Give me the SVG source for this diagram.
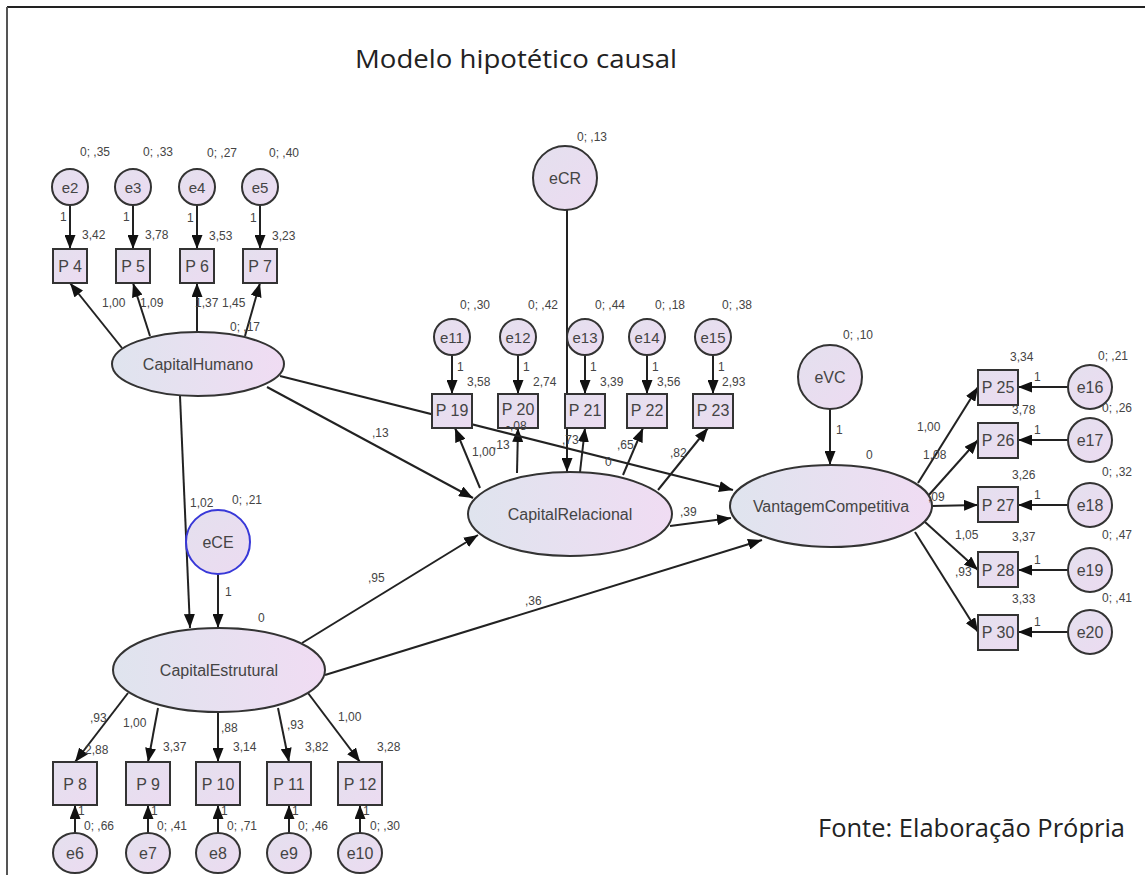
<svg xmlns="http://www.w3.org/2000/svg" width="1145" height="875" viewBox="0 0 1145 875">
<defs>
<linearGradient id="gE" x1="0" y1="0" x2="1" y2="0">
<stop offset="0" stop-color="#dfe4ee"/><stop offset="1" stop-color="#f0dcf3"/>
</linearGradient>
<linearGradient id="gS" x1="0" y1="0" x2="1" y2="1">
<stop offset="0" stop-color="#e4e0ee"/><stop offset="1" stop-color="#ecdbf1"/>
</linearGradient>
<marker id="ah" viewBox="0 0 14 11" refX="14" refY="5.5" markerWidth="14" markerHeight="11" markerUnits="userSpaceOnUse" orient="auto">
<path d="M0,0 L14,5.5 L0,11 z" fill="#111"/>
</marker>
<style>
.lat{fill:url(#gE);stroke:#333;stroke-width:2}
.obs{fill:url(#gS);stroke:#333;stroke-width:2}
.err{fill:url(#gS);stroke:#333;stroke-width:2}
.blue{stroke:#3838d8}
.c line{stroke:#222;stroke-width:2;marker-end:url(#ah)}
text{font-family:"Liberation Sans",Arial,sans-serif;fill:#444}
.nl{font-size:16px;text-anchor:middle;dominant-baseline:central}
.el{font-size:15px;text-anchor:middle;dominant-baseline:central}
.sl{font-size:12px}
.big{font-family:"Open Sans","Noto Sans",sans-serif;fill:#222;font-size:26px}
</style>
</defs>
<rect width="1145" height="875" fill="#fff"/>
<line x1="7" y1="7" x2="1145" y2="7" stroke="#222" stroke-width="2"/>
<line x1="7" y1="7" x2="7" y2="875" stroke="#555" stroke-width="2"/>
<text class="big" x="355" y="68" textLength="322" lengthAdjust="spacingAndGlyphs">Modelo hipotético causal</text>
<text class="big" x="818" y="837" textLength="307" lengthAdjust="spacingAndGlyphs">Fonte: Elaboração Própria</text>

<g class="c" id="connectors">
<line x1="70" y1="205" x2="70" y2="249"/>
<line x1="133" y1="205" x2="133" y2="249"/>
<line x1="197" y1="205" x2="197" y2="249"/>
<line x1="260" y1="205" x2="260" y2="249"/>
<line x1="122" y1="348" x2="70" y2="283"/>
<line x1="150" y1="336" x2="133" y2="283"/>
<line x1="197" y1="332" x2="197" y2="283"/>
<line x1="245" y1="336" x2="260" y2="283"/>
<line x1="452" y1="355" x2="452" y2="394"/>
<line x1="518" y1="355" x2="518" y2="394"/>
<line x1="585" y1="355" x2="585" y2="394"/>
<line x1="647" y1="355" x2="647" y2="394"/>
<line x1="713" y1="355" x2="713" y2="394"/>
<line x1="567" y1="210" x2="567" y2="472"/>
<line x1="480" y1="488" x2="455" y2="428"/>
<line x1="517" y1="473" x2="518" y2="428"/>
<line x1="580" y1="472" x2="585" y2="428"/>
<line x1="623" y1="475" x2="643" y2="428"/>
<line x1="658" y1="490" x2="708" y2="428"/>
<line x1="267" y1="387" x2="473" y2="498"/>
<line x1="280" y1="376" x2="733" y2="490"/>
<line x1="670" y1="526" x2="731" y2="518"/>
<line x1="325" y1="675" x2="762" y2="540"/>
<line x1="302" y1="643" x2="478" y2="535"/>
<line x1="830" y1="409" x2="830" y2="465"/>
<line x1="918" y1="483" x2="978" y2="387"/>
<line x1="928" y1="496" x2="978" y2="440"/>
<line x1="932" y1="506" x2="978" y2="505"/>
<line x1="925" y1="522" x2="978" y2="570"/>
<line x1="915" y1="532" x2="978" y2="632"/>
<line x1="1068" y1="387" x2="1018" y2="387"/>
<line x1="1068" y1="440" x2="1018" y2="440"/>
<line x1="1068" y1="505" x2="1018" y2="505"/>
<line x1="1068" y1="570" x2="1018" y2="570"/>
<line x1="1068" y1="632" x2="1018" y2="632"/>
<line x1="180" y1="396" x2="190" y2="628"/>
<line x1="218" y1="574" x2="218" y2="628"/>
<line x1="128" y1="693" x2="75" y2="762"/>
<line x1="158" y1="708" x2="148" y2="762"/>
<line x1="218" y1="712" x2="218" y2="762"/>
<line x1="278" y1="708" x2="289" y2="762"/>
<line x1="308" y1="693" x2="360" y2="762"/>
<line x1="75" y1="833" x2="75" y2="805"/>
<line x1="148" y1="833" x2="148" y2="805"/>
<line x1="218" y1="833" x2="218" y2="805"/>
<line x1="289" y1="833" x2="289" y2="805"/>
<line x1="360" y1="833" x2="360" y2="805"/>
</g>

<g id="e2"><circle class="err" cx="70" cy="187" r="18"/><text class="el" x="70" y="187">e2</text></g>
<g id="e3"><circle class="err" cx="133" cy="187" r="18"/><text class="el" x="133" y="187">e3</text></g>
<g id="e4"><circle class="err" cx="197" cy="187" r="18"/><text class="el" x="197" y="187">e4</text></g>
<g id="e5"><circle class="err" cx="260" cy="187" r="18"/><text class="el" x="260" y="187">e5</text></g>
<g id="P4"><rect class="obs" x="53" y="249" width="34" height="34"/><text class="nl" x="70" y="266">P 4</text></g>
<g id="P5"><rect class="obs" x="116" y="249" width="34" height="34"/><text class="nl" x="133" y="266">P 5</text></g>
<g id="P6"><rect class="obs" x="180" y="249" width="34" height="34"/><text class="nl" x="197" y="266">P 6</text></g>
<g id="P7"><rect class="obs" x="243" y="249" width="34" height="34"/><text class="nl" x="260" y="266">P 7</text></g>
<g id="CapitalHumano"><ellipse class="lat" cx="198" cy="364" rx="86" ry="32"/><text class="nl" x="198" y="364">CapitalHumano</text></g>

<g id="eCR"><circle class="err" cx="565" cy="178" r="32"/><text class="nl" x="565" y="178">eCR</text></g>
<g id="e11"><circle class="err" cx="452" cy="337" r="18"/><text class="el" x="452" y="337">e11</text></g>
<g id="e12"><circle class="err" cx="518" cy="337" r="18"/><text class="el" x="518" y="337">e12</text></g>
<g id="e13"><circle class="err" cx="585" cy="337" r="18"/><text class="el" x="585" y="337">e13</text></g>
<g id="e14"><circle class="err" cx="647" cy="337" r="18"/><text class="el" x="647" y="337">e14</text></g>
<g id="e15"><circle class="err" cx="713" cy="337" r="18"/><text class="el" x="713" y="337">e15</text></g>
<g id="P19"><rect class="obs" x="432" y="394" width="40" height="34"/><text class="nl" x="452" y="410">P 19</text></g>
<g id="P20"><rect class="obs" x="498" y="394" width="40" height="34"/><text class="nl" x="518" y="409">P 20</text></g>
<g id="P21"><rect class="obs" x="565" y="394" width="40" height="34"/><text class="nl" x="585" y="410">P 21</text></g>
<g id="P22"><rect class="obs" x="627" y="394" width="40" height="34"/><text class="nl" x="647" y="410">P 22</text></g>
<g id="P23"><rect class="obs" x="693" y="394" width="40" height="34"/><text class="nl" x="713" y="410">P 23</text></g>
<g id="CapitalRelacional"><ellipse class="lat" cx="570" cy="514" rx="102" ry="42"/><text class="nl" x="570" y="514">CapitalRelacional</text></g>

<g id="eVC"><circle class="err" cx="830" cy="377" r="32"/><text class="nl" x="830" y="377">eVC</text></g>
<g id="VantagemCompetitiva"><ellipse class="lat" cx="831" cy="506" rx="101" ry="41"/><text class="nl" x="831" y="506">VantagemCompetitiva</text></g>
<g id="P25"><rect class="obs" x="978" y="370" width="40" height="35"/><text class="nl" x="998" y="387">P 25</text></g>
<g id="P26"><rect class="obs" x="978" y="423" width="40" height="35"/><text class="nl" x="998" y="440">P 26</text></g>
<g id="P27"><rect class="obs" x="978" y="487" width="40" height="35"/><text class="nl" x="998" y="505">P 27</text></g>
<g id="P28"><rect class="obs" x="978" y="552" width="40" height="35"/><text class="nl" x="998" y="570">P 28</text></g>
<g id="P30"><rect class="obs" x="978" y="615" width="40" height="35"/><text class="nl" x="998" y="632">P 30</text></g>
<g id="e16"><circle class="err" cx="1090" cy="387" r="22"/><text class="nl" x="1090" y="387">e16</text></g>
<g id="e17"><circle class="err" cx="1090" cy="440" r="22"/><text class="nl" x="1090" y="440">e17</text></g>
<g id="e18"><circle class="err" cx="1090" cy="505" r="22"/><text class="nl" x="1090" y="505">e18</text></g>
<g id="e19"><circle class="err" cx="1090" cy="570" r="22"/><text class="nl" x="1090" y="570">e19</text></g>
<g id="e20"><circle class="err" cx="1090" cy="632" r="22"/><text class="nl" x="1090" y="632">e20</text></g>

<g id="eCE"><circle class="err blue" cx="218" cy="542" r="32"/><text class="nl" x="218" y="542">eCE</text></g>
<g id="CapitalEstrutural"><ellipse class="lat" cx="219" cy="670" rx="106" ry="42"/><text class="nl" x="219" y="670">CapitalEstrutural</text></g>
<g id="P8"><rect class="obs" x="53" y="762" width="44" height="43"/><text class="nl" x="75" y="784">P 8</text></g>
<g id="P9"><rect class="obs" x="126" y="762" width="44" height="43"/><text class="nl" x="148" y="784">P 9</text></g>
<g id="P10"><rect class="obs" x="196" y="762" width="44" height="43"/><text class="nl" x="218" y="784">P 10</text></g>
<g id="P11"><rect class="obs" x="267" y="762" width="44" height="43"/><text class="nl" x="289" y="784">P 11</text></g>
<g id="P12"><rect class="obs" x="338" y="762" width="44" height="43"/><text class="nl" x="360" y="784">P 12</text></g>
<g id="e6"><ellipse class="err" cx="75" cy="853" rx="22" ry="20"/><text class="nl" x="75" y="853">e6</text></g>
<g id="e7"><ellipse class="err" cx="148" cy="853" rx="22" ry="20"/><text class="nl" x="148" y="853">e7</text></g>
<g id="e8"><ellipse class="err" cx="218" cy="853" rx="22" ry="20"/><text class="nl" x="218" y="853">e8</text></g>
<g id="e9"><ellipse class="err" cx="289" cy="853" rx="22" ry="20"/><text class="nl" x="289" y="853">e9</text></g>
<g id="e10"><ellipse class="err" cx="360" cy="853" rx="22" ry="20"/><text class="nl" x="360" y="853">e10</text></g>

<g id="labels">
<text class="sl" x="80" y="156">0; ,35</text>
<text class="sl" x="143" y="156">0; ,33</text>
<text class="sl" x="207" y="157">0; ,27</text>
<text class="sl" x="269" y="157">0; ,40</text>
<text class="sl" x="60" y="221">1</text>
<text class="sl" x="123" y="221">1</text>
<text class="sl" x="187" y="222">1</text>
<text class="sl" x="250" y="222">1</text>
<text class="sl" x="82" y="239">3,42</text>
<text class="sl" x="145" y="239">3,78</text>
<text class="sl" x="209" y="240">3,53</text>
<text class="sl" x="272" y="240">3,23</text>
<text class="sl" x="102" y="307">1,00</text>
<text class="sl" x="140" y="307">1,09</text>
<text class="sl" x="195" y="307">1,37</text>
<text class="sl" x="222" y="307">1,45</text>
<text class="sl" x="230" y="331">0; ,17</text>

<text class="sl" x="577" y="141">0; ,13</text>
<text class="sl" x="460" y="309">0; ,30</text>
<text class="sl" x="528" y="309">0; ,42</text>
<text class="sl" x="595" y="309">0; ,44</text>
<text class="sl" x="655" y="309">0; ,18</text>
<text class="sl" x="722" y="309">0; ,38</text>
<text class="sl" x="457" y="371">1</text>
<text class="sl" x="523" y="371">1</text>
<text class="sl" x="590" y="371">1</text>
<text class="sl" x="652" y="371">1</text>
<text class="sl" x="718" y="371">1</text>
<text class="sl" x="467" y="386">3,58</text>
<text class="sl" x="533" y="386">2,74</text>
<text class="sl" x="600" y="386">3,39</text>
<text class="sl" x="657" y="386">3,56</text>
<text class="sl" x="722" y="386">2,93</text>
<text class="sl" x="506" y="430">-,08</text>
<text class="sl" x="472" y="456">1,00</text>
<text class="sl" x="493" y="449">,13</text>
<text class="sl" x="562" y="444">,73</text>
<text class="sl" x="617" y="449">,65</text>
<text class="sl" x="670" y="457">,82</text>
<text class="sl" x="605" y="466">0</text>
<text class="sl" x="372" y="437">,13</text>
<text class="sl" x="680" y="516">,39</text>
<text class="sl" x="368" y="582">,95</text>
<text class="sl" x="525" y="605">,36</text>

<text class="sl" x="843" y="339">0; ,10</text>
<text class="sl" x="836" y="434">1</text>
<text class="sl" x="866" y="459">0</text>
<text class="sl" x="917" y="431">1,00</text>
<text class="sl" x="923" y="459">1,08</text>
<text class="sl" x="928" y="501">,09</text>
<text class="sl" x="955" y="539">1,05</text>
<text class="sl" x="955" y="576">,93</text>
<text class="sl" x="1010" y="361">3,34</text>
<text class="sl" x="1012" y="414">3,78</text>
<text class="sl" x="1012" y="479">3,26</text>
<text class="sl" x="1012" y="541">3,37</text>
<text class="sl" x="1012" y="603">3,33</text>
<text class="sl" x="1098" y="360">0; ,21</text>
<text class="sl" x="1102" y="412">0; ,26</text>
<text class="sl" x="1102" y="476">0; ,32</text>
<text class="sl" x="1102" y="539">0; ,47</text>
<text class="sl" x="1102" y="602">0; ,41</text>
<text class="sl" x="1034" y="381">1</text>
<text class="sl" x="1034" y="434">1</text>
<text class="sl" x="1034" y="499">1</text>
<text class="sl" x="1034" y="564">1</text>
<text class="sl" x="1034" y="626">1</text>

<text class="sl" x="190" y="507">1,02</text>
<text class="sl" x="232" y="504">0; ,21</text>
<text class="sl" x="225" y="596">1</text>
<text class="sl" x="258" y="622">0</text>
<text class="sl" x="90" y="722">,93</text>
<text class="sl" x="123" y="727">1,00</text>
<text class="sl" x="221" y="732">,88</text>
<text class="sl" x="287" y="729">,93</text>
<text class="sl" x="338" y="721">1,00</text>
<text class="sl" x="85" y="754">2,88</text>
<text class="sl" x="163" y="751">3,37</text>
<text class="sl" x="233" y="751">3,14</text>
<text class="sl" x="305" y="751">3,82</text>
<text class="sl" x="377" y="751">3,28</text>
<text class="sl" x="78" y="815">1</text>
<text class="sl" x="151" y="815">1</text>
<text class="sl" x="221" y="815">1</text>
<text class="sl" x="292" y="815">1</text>
<text class="sl" x="363" y="815">1</text>
<text class="sl" x="84" y="830">0; ,66</text>
<text class="sl" x="157" y="830">0; ,41</text>
<text class="sl" x="227" y="830">0; ,71</text>
<text class="sl" x="298" y="830">0; ,46</text>
<text class="sl" x="370" y="830">0; ,30</text>
</g>
</svg>
